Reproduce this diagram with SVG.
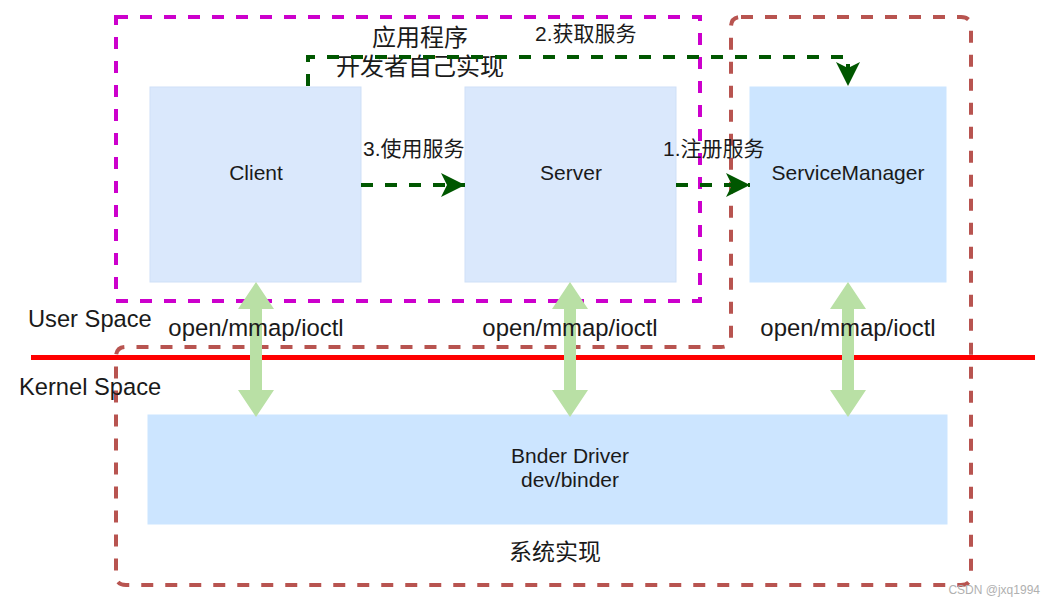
<svg xmlns="http://www.w3.org/2000/svg" xmlns:xlink="http://www.w3.org/1999/xlink" width="1056" height="606" viewBox="0 0 1056 606">
<style>
text{font-family:"Liberation Sans","Noto Sans CJK SC",sans-serif;fill:#1a1a1a}
.box1{fill:#dae8fc;stroke:#cfe0f7;stroke-width:1}
.box2{fill:#cce5ff;stroke:#cce5ff;stroke-width:1}
.flow{fill:none;stroke:#005700;stroke-width:4;stroke-dasharray:12 12}
.dbl{fill:#b9e0a5}
</style>
<defs>
<marker id="ah" viewBox="0 0 24 24" refX="24" refY="12" markerWidth="24" markerHeight="24" markerUnits="userSpaceOnUse" orient="auto">
<path d="M0,0 L24,12 L0,24 L6,12 Z" fill="#005700"/>
</marker>
<path id="dblarrow" class="dbl" d="M0,0 L18,27 L6,27 L6,108 L18,108 L0,135 L-18,108 L-6,108 L-6,27 L-18,27 Z"/>
</defs>
<rect width="1056" height="606" fill="#ffffff"/>

<g id="system-area">
<path d="M741,17 H961 Q971,17 971,27 V575 Q971,585 961,585 H126 Q116,585 116,575 V357 Q116,347 126,347 H721 Q731,347 731,337 V27 Q731,17 741,17 Z" fill="none" stroke="#b85450" stroke-width="4" stroke-dasharray="12 12"/>
<text x="555" y="560" font-size="23" text-anchor="middle">系统实现</text>
</g>

<g id="kernel-line">
<line x1="31" y1="357.5" x2="1035" y2="357.5" stroke="#ff0000" stroke-width="5"/>
<text x="28" y="327" font-size="23.7">User Space</text>
<text x="19" y="395" font-size="23.7">Kernel Space</text>
</g>

<g id="client">
<rect class="box1" x="150" y="87" width="211" height="195"/>
<text x="256" y="180" font-size="21" text-anchor="middle">Client</text>
</g>
<g id="server">
<rect class="box1" x="465" y="87" width="211" height="195"/>
<text x="571" y="180" font-size="21" text-anchor="middle">Server</text>
</g>
<g id="servicemanager">
<rect class="box2" x="750" y="87" width="196" height="195"/>
<text x="848" y="180" font-size="21" text-anchor="middle">ServiceManager</text>
</g>
<g id="binder-driver">
<rect class="box2" x="148" y="415" width="799" height="109"/>
<text x="570" y="463" font-size="21" text-anchor="middle">Bnder Driver</text>
<text x="570" y="487" font-size="21" text-anchor="middle">dev/binder</text>
</g>

<g id="app-area">
<rect x="116" y="17" width="584" height="284" fill="none" stroke="#cc00cc" stroke-width="4" stroke-dasharray="12 12"/>
<text x="420" y="46" font-size="24" text-anchor="middle">应用程序</text>
<text x="420" y="75" font-size="24" text-anchor="middle">开发者自己实现</text>
</g>

<g id="connectors">
<path class="flow" d="M308,86 V57 H848 V86" marker-end="url(#ah)"/>
<path class="flow" d="M361,185 H465" marker-end="url(#ah)"/>
<path class="flow" d="M676,185 H750" marker-end="url(#ah)"/>
<text x="535" y="41" font-size="21">2.获取服务</text>
<text x="363" y="156" font-size="21">3.使用服务</text>
<text x="663" y="156" font-size="21">1.注册服务</text>
<use xlink:href="#dblarrow" x="256" y="282"/>
<use xlink:href="#dblarrow" x="570" y="282"/>
<use xlink:href="#dblarrow" x="848" y="282"/>
<text x="256" y="336" font-size="23.9" text-anchor="middle">open/mmap/ioctl</text>
<text x="570" y="336" font-size="23.9" text-anchor="middle">open/mmap/ioctl</text>
<text x="848" y="336" font-size="23.9" text-anchor="middle">open/mmap/ioctl</text>
</g>

<text x="1040" y="594" font-size="12" text-anchor="end" style="fill:#b0b0b0">CSDN @jxq1994</text>
</svg>
